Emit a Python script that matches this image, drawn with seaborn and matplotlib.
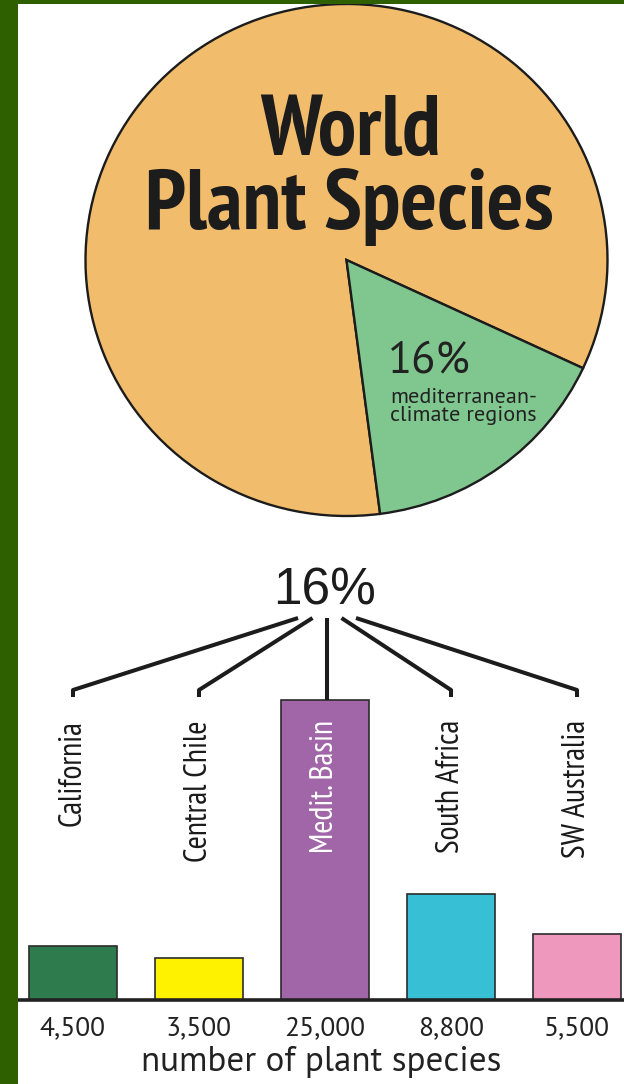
import numpy as np
import pandas as pd
import matplotlib
matplotlib.use("Agg")
import matplotlib.pyplot as plt
from matplotlib import font_manager
from matplotlib.patches import Rectangle
import seaborn as sns

# ---------------- data ----------------
pie_labels = ["rest of the world", "mediterranean-climate regions"]
pie_shares = [84, 16]
pie_colors = ["#F1BC6B", "#7FC78E"]

regions = ["California", "Central Chile", "Medit. Basin", "South Africa", "SW Australia"]
species = [4500, 3500, 25000, 8800, 5500]
bar_colors = ["#2E7B4E", "#FFF200", "#A066A8", "#36BFD5", "#EE98BE"]
region_text_colors = ["#1a1a1a", "#1a1a1a", "white", "#1a1a1a", "#1a1a1a"]

title_lines = ["World", "Plant Species"]
share_label = "16%"
share_caption = "mediterranean-\nclimate regions"
xlabel_text = "number of plant species"


# ---------------- fonts ----------------
def pick(fams):
    for f in fams:
        try:
            font_manager.findfont(font_manager.FontProperties(family=f),
                                  fallback_to_default=False)
            return f
        except Exception:
            pass
    return "DejaVu Sans"


NARROW = pick(["PT Sans Narrow", "Roboto Condensed", "Fira Sans Condensed",
               "Liberation Sans Narrow", "Liberation Sans"])
HELV = pick(["Liberation Sans", "DejaVu Sans"])
HUMAN = pick(["PT Sans", "Open Sans", "Noto Sans", "DejaVu Sans"])

sns.set_theme(style="white")
plt.rcParams["font.family"] = [HUMAN, "DejaVu Sans"]

W, H = 624, 1084
fig = plt.figure(figsize=(W / 100, H / 100), dpi=100)
fig.patch.set_facecolor("white")


def px_rect(x0, y0, x1, y1):
    return [x0 / W, 1 - y1 / H, (x1 - x0) / W, (y1 - y0) / H]


def fx(px):
    return px / W


def fy(py):
    return 1 - py / H


INK = "#1c1c1c"

# ---------------- pie ----------------
cx, cy, rx, ry = 346.5, 260, 261, 256
axp = fig.add_axes(px_rect(cx - rx, cy - ry, cx + rx, cy + ry))
wedges, _ = axp.pie(pie_shares, colors=pie_colors, startangle=-25, counterclock=True,
                    wedgeprops=dict(edgecolor=INK, linewidth=1.7))
for w in wedges:
    w.set_clip_on(False)
axp.set_aspect("auto")
axp.set_xlim(-1, 1)
axp.set_ylim(-1, 1)
axp.axis("off")

fig.text(fx(350), fy(155), title_lines[0], ha="center", va="baseline",
         fontsize=62, fontweight="bold", family=[NARROW, "DejaVu Sans"], color=INK)
fig.text(fx(349), fy(229), title_lines[1], ha="center", va="baseline",
         fontsize=62, fontweight="bold", family=[NARROW, "DejaVu Sans"], color=INK)
fig.text(fx(388), fy(372), share_label, ha="left", va="baseline",
         fontsize=32, family=[HUMAN, "DejaVu Sans"], color="#222222")
fig.text(fx(390), fy(421), share_caption, ha="left", va="baseline",
         fontsize=15.9, linespacing=0.95, family=[HUMAN, "DejaVu Sans"], color="#222222")

# ---------------- bars ----------------
df = pd.DataFrame({"region": regions, "species": species})
BASE, TOP = 1000, 560
YMAX = 36667
axb = fig.add_axes(px_rect(18, TOP, 624, BASE))
sns.barplot(data=df, x="region", y="species", hue="region", palette=bar_colors,
            legend=False, width=0.7, saturation=1, edgecolor="#2b2b2b",
            linewidth=1.2, ax=axb)
axb.set_facecolor("none")
axb.set_xlim(-0.4365, 4.373)
axb.set_ylim(0, YMAX)
for s in ["top", "left", "right"]:
    axb.spines[s].set_visible(False)
axb.spines["bottom"].set_linewidth(2.6)
axb.spines["bottom"].set_color("#222222")
axb.set_yticks([])
axb.set_xticks(range(len(regions)))
axb.set_xticklabels([f"{v:,}" for v in species], fontsize=19.8,
                    family=[HUMAN, "DejaVu Sans"], color="#222222")
axb.tick_params(axis="x", length=0, pad=12)
axb.set_xlabel(xlabel_text, fontsize=25.2, family=[HUMAN, "DejaVu Sans"],
               color="#222222", labelpad=3.5)
axb.set_ylabel("")


def y_of(py):
    return (BASE - py) * YMAX / (BASE - TOP)


n = len(regions)
mid = (n - 1) / 2
for i, (name, tc) in enumerate(zip(regions, region_text_colors)):
    axb.text(i, y_of(720), name, rotation=90, ha="center", va="top",
             fontsize=23, family=[NARROW, "DejaVu Sans"], color=tc)
    sx = mid + 0.016 + (i - mid) * 0.115
    if i == int(mid):
        xs, ys = [sx, sx], [y_of(618), species[i]]
    else:
        xs, ys = [sx, i, i], [y_of(618), y_of(690), y_of(697)]
    axb.plot(xs, ys, color=INK, lw=2.9, clip_on=False,
             solid_joinstyle="round", solid_capstyle="butt")

axb.text(mid, y_of(604), share_label, ha="center", va="baseline", fontsize=37,
         family=[HELV, "DejaVu Sans"], color=INK)

# ---------------- frame ----------------
GREEN = "#2F6000"
fig.patches.append(Rectangle((0, 0), 18 / W, 1, transform=fig.transFigure,
                             facecolor=GREEN, edgecolor="none", zorder=10))
fig.patches.append(Rectangle((0, 1 - 3.5 / H), 1, 3.5 / H, transform=fig.transFigure,
                             facecolor=GREEN, edgecolor="none", zorder=10))

fig.savefig("out.png", dpi=100, facecolor="white")
